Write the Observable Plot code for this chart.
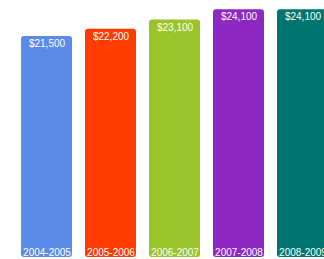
<!DOCTYPE html>
<html>
<head>
<meta charset="utf-8">
<script src="https://cdn.jsdelivr.net/npm/d3@7"></script>
<script src="https://cdn.jsdelivr.net/npm/@observablehq/plot@0.6"></script>
<style>
  html, body { margin: 0; padding: 0; background: #fff; overflow: hidden; }
  svg { display: block; }
</style>
</head>
<body>
<div id="chart"></div>
<script>
const years = ["2004-2005", "2005-2006", "2006-2007", "2007-2008", "2008-2009"];
const values = [21500, 22200, 23100, 24100, 24100];
const valueLabels = ["$21,500", "$22,200", "$23,100", "$24,100", "$24,100"];
const colors = ["#5b8be8", "#ff3b00", "#99c42a", "#8e28c3", "#007570"];

const data = years.map((y, i) => ({year: y, value: values[i], label: valueLabels[i]}));

const chart = Plot.plot({
  width: 324,
  height: 259,
  marginTop: 0,
  marginBottom: 2,
  marginLeft: 0,
  marginRight: 0,
  style: {fontFamily: "Liberation Sans, Arial, sans-serif", background: "#fff"},
  x: {domain: years, range: [8, 340.8], padding: 0.2, axis: null},
  y: {domain: [0, 25000], axis: null},
  color: {domain: years, range: colors},
  marks: [
    Plot.barY(data, {x: "year", y: "value", fill: "year", rx: 3}),
    Plot.text(data, {x: "year", y: "value", text: "label", fill: "white", fontSize: 10, dy: 7.5}),
    Plot.text(data, {x: "year", y: 0, text: "year", fill: "white", fontSize: 10, dy: -5})
  ]
});
document.getElementById("chart").appendChild(chart);
</script>
</body>
</html>
